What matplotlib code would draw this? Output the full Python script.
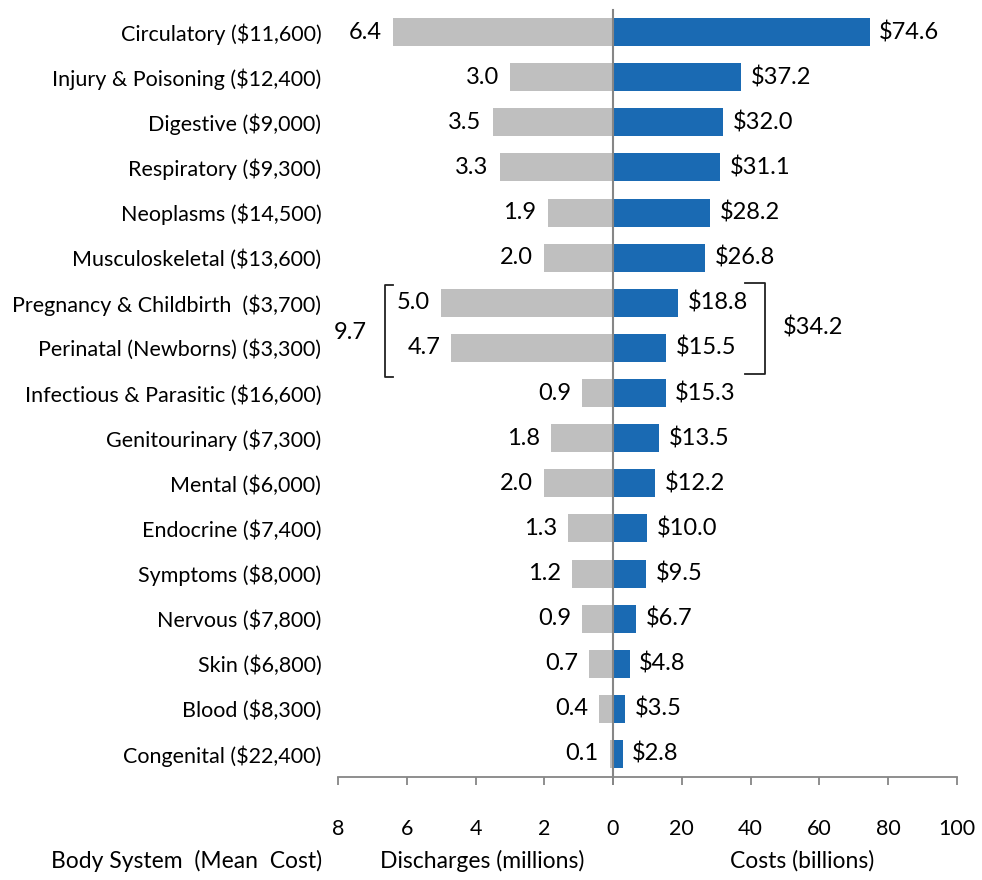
import matplotlib.pyplot as plt

plt.rcParams['font.family'] = ['Lato', 'DejaVu Sans']

categories = ['Circulatory ($11,600)', 'Injury & Poisoning ($12,400)', 'Digestive ($9,000)',
              'Respiratory ($9,300)', 'Neoplasms ($14,500)', 'Musculoskeletal ($13,600)',
              'Pregnancy & Childbirth  ($3,700)', 'Perinatal (Newborns) ($3,300)',
              'Infectious & Parasitic ($16,600)', 'Genitourinary ($7,300)', 'Mental ($6,000)',
              'Endocrine ($7,400)', 'Symptoms ($8,000)', 'Nervous ($7,800)', 'Skin ($6,800)',
              'Blood ($8,300)', 'Congenital ($22,400)']
discharges = [6.4, 3.0, 3.5, 3.3, 1.9, 2.0, 5.0, 4.7, 0.9, 1.8, 2.0, 1.3, 1.2, 0.9, 0.7, 0.4, 0.1]
costs = [74.6, 37.2, 32.0, 31.1, 28.2, 26.8, 18.8, 15.5, 15.3, 13.5, 12.2, 10.0, 9.5, 6.7, 4.8, 3.5, 2.8]
group_discharges = 9.7   # pregnancy + perinatal
group_costs = 34.2
left_ticks = [8, 6, 4, 2, 0]
right_ticks = [0, 20, 40, 60, 80, 100]

GRAY = '#BFBFBF'
BLUE = '#1A6AB3'
AXC = '#868686'
FS_CAT = 15.5
FS_TICK = 15.5
FS_TITLE = 16.5
FS_VAL = 17

W, H = 982, 880
fig = plt.figure(figsize=(W / 100, H / 100), dpi=100)

x0, xm, x1 = 338, 613, 957
ytop, ybot = 10, 777
axL = fig.add_axes([x0 / W, 1 - ybot / H, (xm - x0) / W, (ybot - ytop) / H])
axR = fig.add_axes([xm / W, 1 - ybot / H, (x1 - xm) / W, (ybot - ytop) / H])

y = list(range(len(categories)))
axL.barh(y, discharges, height=0.62, color=GRAY)
axR.barh(y, costs, height=0.62, color=BLUE)

for ax in (axL, axR):
    ax.set_ylim(16.51, -0.49)
    for s in ('top', 'left', 'right'):
        ax.spines[s].set_visible(False)
    ax.spines['bottom'].set_color(AXC)
    ax.spines['bottom'].set_linewidth(1.3)
    ax.tick_params(axis='x', direction='out', length=6, width=1.3, color=AXC,
                   labelsize=FS_TICK, pad=24)

axL.set_xlim(8, 0)
axL.set_xticks(left_ticks)
axL.set_yticks(y)
axL.set_yticklabels(categories, fontsize=FS_CAT)
axL.tick_params(axis='y', length=0, pad=12)

axR.set_xlim(0, 100)
axR.set_xticks(right_ticks)
axR.set_xticklabels([''] + [str(t) for t in right_ticks[1:]])
axR.set_yticks([])
axR.spines['left'].set_visible(True)
axR.spines['left'].set_color(AXC)
axR.spines['left'].set_linewidth(1.5)

for i, v in enumerate(discharges):
    axL.annotate(f'{v:.1f}', (v, i), xytext=(-8, 0), textcoords='offset points',
                 ha='right', va='center', fontsize=FS_VAL)
for i, v in enumerate(costs):
    axR.annotate(f'${v:.1f}', (v, i), xytext=(7, 0), textcoords='offset points',
                 ha='left', va='center', fontsize=FS_VAL)

# brackets around pregnancy + perinatal
bk = dict(color='#222222', lw=1.3, clip_on=False)
axL.plot([6.4, 6.63, 6.63, 6.4], [5.6, 5.6, 7.65, 7.65], **bk)
axL.text(7.65, 6.65, f'{group_discharges:.1f}', ha='center', va='center', fontsize=FS_VAL)
axR.plot([38.5, 44.2, 44.2, 38.5], [5.55, 5.55, 7.58, 7.58], **bk)
axR.text(49.5, 6.55, f'${group_costs:.1f}', ha='left', va='center', fontsize=FS_VAL)

fig.text(322 / W, 1 - 861 / H, 'Body System  (Mean  Cost)', ha='right', va='center', fontsize=FS_TITLE)
fig.text(482 / W, 1 - 861 / H, 'Discharges (millions)', ha='center', va='center', fontsize=FS_TITLE)
fig.text(802 / W, 1 - 861 / H, 'Costs (billions)', ha='center', va='center', fontsize=FS_TITLE)

fig.savefig('out.png', dpi=100)
